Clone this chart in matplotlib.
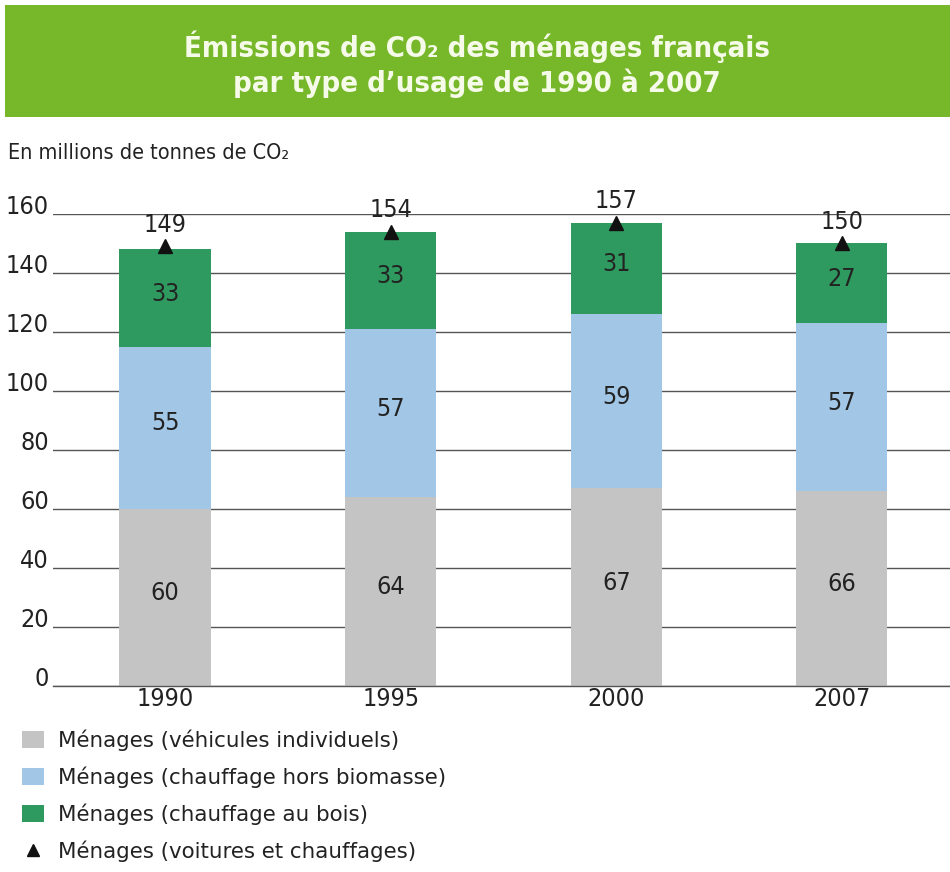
import matplotlib
matplotlib.use("Agg")
import matplotlib.pyplot as plt
from matplotlib.patches import Rectangle, Patch
from matplotlib.lines import Line2D
import numpy as np

years = ["1990", "1995", "2000", "2007"]
vehicules = [60, 64, 67, 66]
chauffage_hors_biomasse = [55, 57, 59, 57]
chauffage_bois = [33, 33, 31, 27]
totaux = [149, 154, 157, 150]
yticks = [0, 20, 40, 60, 80, 100, 120, 140, 160]

series_labels = [
    "Ménages (véhicules individuels)",
    "Ménages (chauffage hors biomasse)",
    "Ménages (chauffage au bois)",
    "Ménages (voitures et chauffages)",
]
title = "Émissions de CO\u2082 des ménages français\npar type d\u2019usage de 1990 à 2007"
unit = "En millions de tonnes de CO\u2082"

c_gray = "#c4c4c4"
c_blue = "#a2c6e6"
c_green = "#2f9a5f"
c_header = "#76b82a"

plt.rcParams["font.family"] = ["DejaVu Sans"]
FS = dict(family="DejaVu Sans", stretch="condensed")

fig = plt.figure(figsize=(9.5, 8.72), dpi=100)

# header band
fig.patches.append(Rectangle((0.005, 0.866), 1.0, 0.128, transform=fig.transFigure,
                             facecolor=c_header, edgecolor="none", zorder=0))
fig.text(0.502, 0.926, title, ha="center", va="center", color="#f6fbe9",
         fontsize=21, fontweight="bold", linespacing=1.25, **FS)
fig.text(0.008, 0.825, unit, ha="left", va="center", color="#222222", fontsize=15.5, **FS)

ax = fig.add_axes([0.0558, 0.2133, 0.9442, 0.5413])
x = np.arange(len(years))
w = 0.405
b1 = ax.bar(x, vehicules, w, color=c_gray, zorder=2)
bottom2 = np.array(vehicules)
b2 = ax.bar(x, chauffage_hors_biomasse, w, bottom=bottom2, color=c_blue, zorder=2)
bottom3 = bottom2 + np.array(chauffage_hors_biomasse)
b3 = ax.bar(x, chauffage_bois, w, bottom=bottom3, color=c_green, zorder=2)

for bars, vals, bots in [(b1, vehicules, np.zeros(4)), (b2, chauffage_hors_biomasse, bottom2),
                         (b3, chauffage_bois, bottom3)]:
    for xi, v, bo in zip(x, vals, bots):
        ax.text(xi, bo + v / 2 + 1.5, str(v), ha="center", va="center",
                fontsize=18, color="#222222", zorder=4, **FS)

ax.plot(x, totaux, linestyle="none", marker="^", markersize=10, color="#111111",
        zorder=5, clip_on=False)
for xi, t in zip(x, totaux):
    ax.annotate(str(t), (xi, t), xytext=(0, 7), textcoords="offset points",
                ha="center", va="bottom", fontsize=18, color="#222222",
                annotation_clip=False, **FS)

ax.set_xlim(-0.497, 3.48)
ax.set_ylim(0, 160)
ax.set_yticks(yticks)
ax.set_xticks(x)
ax.set_xticklabels(years)
ax.yaxis.grid(True, color="#555555", linewidth=1.0, zorder=1)
ax.set_axisbelow(True)
for s in ax.spines.values():
    s.set_visible(False)
ax.spines["bottom"].set_visible(True)
ax.spines["bottom"].set_color("#555555")
ax.spines["bottom"].set_linewidth(1.0)
ax.spines["bottom"].set_zorder(3)
ax.tick_params(axis="both", length=0, labelsize=18, labelcolor="#222222")
ax.tick_params(axis="y", pad=3)
ax.tick_params(axis="x", pad=1)
for lab in ax.get_yticklabels():
    lab.set_verticalalignment("baseline")
    lab.set_fontstretch("condensed")
for lab in ax.get_xticklabels():
    lab.set_fontstretch("condensed")

handles = [Patch(facecolor=c_gray), Patch(facecolor=c_blue), Patch(facecolor=c_green),
           Line2D([], [], linestyle="none", marker="^", markersize=8, color="#111111")]
leg = fig.legend(handles, series_labels, loc="upper left", bbox_to_anchor=(0.023, 0.1634),
                 frameon=False, prop=dict(size=15.4, family="DejaVu Sans"),
                 handlelength=1.03, handleheight=0.85, handletextpad=0.65,
                 labelspacing=0.73, borderpad=0, borderaxespad=0)
for t in leg.get_texts():
    t.set_color("#222222")

fig.savefig("out.png", dpi=100)
